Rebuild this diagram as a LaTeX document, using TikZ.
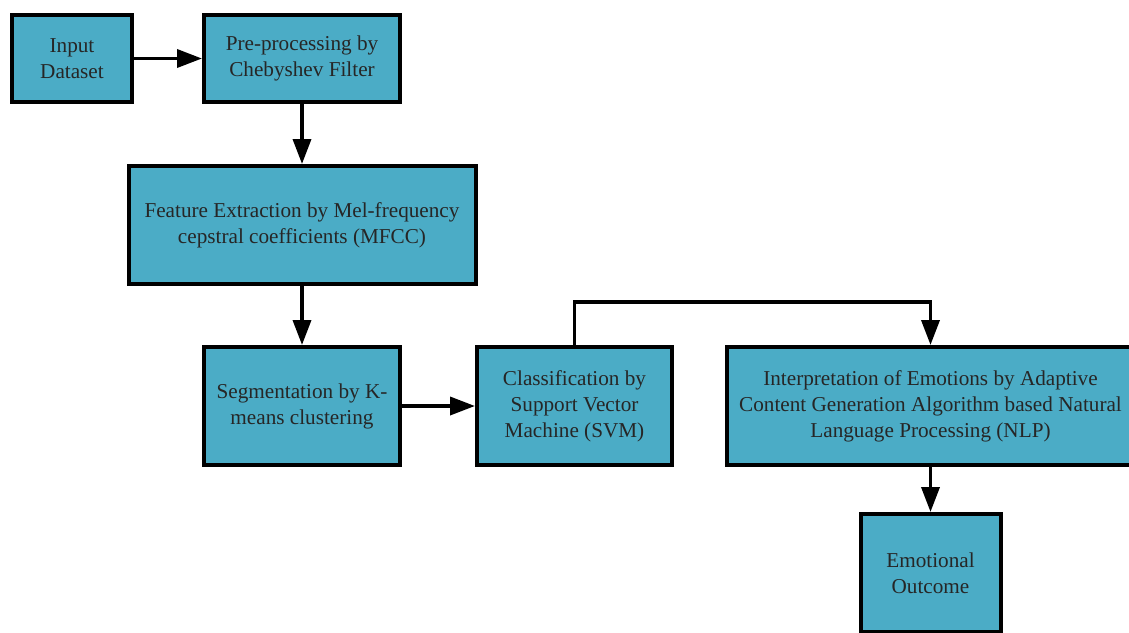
\documentclass[tikz,border=0pt]{standalone}
\usepackage{fontspec}
\setmainfont{LiberationSerif}[Extension=.ttf,UprightFont=*-Regular]
\usetikzlibrary{arrows.meta,positioning}
\definecolor{boxblue}{RGB}{75,172,198}

\begin{document}
\begin{tikzpicture}
  [-{Triangle[length=12.5pt,width=9pt]},line width=1.8pt]
  \tikzstyle{block}=[draw=black,fill=boxblue,line width=2pt,align=center,inner sep=2pt,text=black!85,font=\fontsize{10.6}{13}\selectfont]

  % page cuts the right and bottom boxes as in the figure
  \useasboundingbox (-36pt,29.25pt) rectangle (528.5pt,-286.75pt);

  \node[block,minimum width=60pt,minimum height=43.5pt] (in) at (0,0) {Input\\Dataset};
  \node[block,minimum width=98pt,minimum height=43.5pt] (pre) [right=34pt of in] {Pre-processing by\\Chebyshev Filter};
  \node[block,minimum width=173.5pt,minimum height=59pt] (feat) [below=30pt of pre] {Feature Extraction by Mel-frequency\\cepstral coefficients (MFCC)};
  \node[block,minimum width=98pt,minimum height=59pt] (seg) [below=29.5pt of feat] {Segmentation by K-\\means clustering};
  \node[block,minimum width=97.5pt,minimum height=59pt] (svm) [right=36.5pt of seg] {Classification by\\Support Vector\\Machine (SVM)};
  \node[block,minimum width=203.5pt,minimum height=59pt] (nlp) [right=25.5pt of svm] {Interpretation of Emotions by Adaptive\\Content Generation Algorithm based Natural\\Language Processing (NLP)};
  \node[block,minimum width=70pt,minimum height=59pt] (out) [below=22.5pt of nlp] {Emotional\\Outcome};

  \draw (in) -- (pre);
  \draw (pre) -- (feat);
  \draw (feat) -- (seg);
  \draw (seg) -- (svm);
  \draw (svm.north) -- ++(0,21.5pt) -| (nlp.north);
  \draw (nlp) -- (out);
\end{tikzpicture}
\end{document}
